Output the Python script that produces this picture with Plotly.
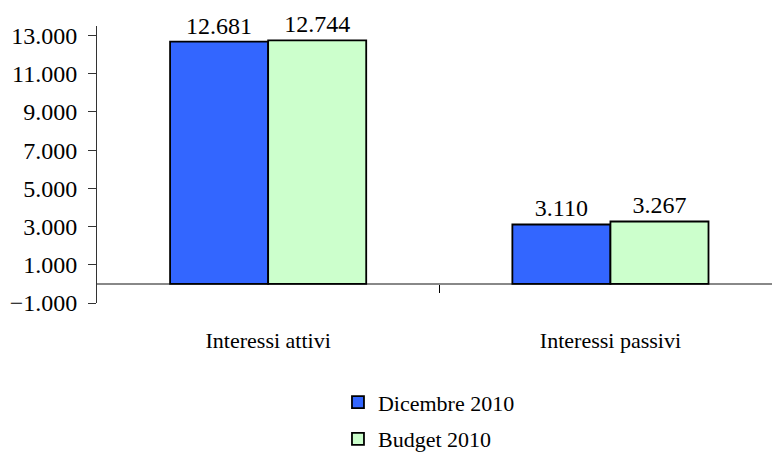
import plotly.graph_objects as go

# Interest income / expense: December 2010 actuals vs 2010 budget
categories = ["Interessi attivi", "Interessi passivi"]
dicembre_2010 = [12681, 3110]
budget_2010 = [12744, 3267]
y_ticks = [-1000, 1000, 3000, 5000, 7000, 9000, 11000, 13000]

FONT = "Liberation Serif, Times New Roman, serif"
FS = 22
NUM_FS = 24


def it_fmt(v):
    return f"{v:,}".replace(",", ".")


fig = go.Figure()
fig.add_trace(go.Bar(
    name="Dicembre 2010", x=categories, y=dicembre_2010,
    text=[it_fmt(v) for v in dicembre_2010], textposition="outside",
    textfont=dict(size=NUM_FS),
    marker=dict(color="#3366FF", line=dict(color="black", width=1.8)),
    legendgroup="a", cliponaxis=False,
))
fig.add_trace(go.Bar(
    name="Budget 2010", x=categories, y=budget_2010,
    text=[it_fmt(v) for v in budget_2010], textposition="outside",
    textfont=dict(size=NUM_FS),
    marker=dict(color="#CCFFCC", line=dict(color="black", width=1.8)),
    legendgroup="b", cliponaxis=False,
))
# empty trace so the zero-level category axis (boundary tick) is drawn
fig.add_trace(go.Scatter(x=[], y=[], xaxis="x2", showlegend=False,
                         hoverinfo="skip"))

fig.update_layout(
    width=772, height=455,
    margin=dict(l=97, r=0, t=26, b=152, autoexpand=False),
    paper_bgcolor="white", plot_bgcolor="white",
    font=dict(family=FONT, size=FS, color="black"),
    separators=",.",
    barmode="group", bargap=0.427, bargroupgap=0,
    showlegend=True,
    legend=dict(
        orientation="v", x=0.357, xanchor="left", y=-0.283, yanchor="top",
        font=dict(size=FS), tracegroupgap=5, bgcolor="rgba(0,0,0,0)",
    ),
    xaxis=dict(
        type="category", range=[-0.5, 1.472],
        showline=False, showgrid=False, ticks="",
        ticklabelstandoff=22, tickfont=dict(size=FS),
    ),
    xaxis2=dict(
        overlaying="x", anchor="free", position=1000 / 14500,
        range=[-0.5, 1.472], tickvals=[0.5], ticks="outside",
        ticklen=8, tickcolor="black", tickwidth=1,
        showticklabels=False, showline=False, showgrid=False,
        zeroline=False,
    ),
    yaxis=dict(
        range=[-1000, 13500], tickvals=y_ticks, tickformat=",",
        ticks="outside", ticklen=8, tickcolor="#333333",
        showline=True, linecolor="#333333", linewidth=1,
        showgrid=False,
        zeroline=True, zerolinecolor="#888888", zerolinewidth=1.5,
        ticklabelstandoff=6, tickfont=dict(size=NUM_FS),
    ),
)

fig.write_html("out.html")
